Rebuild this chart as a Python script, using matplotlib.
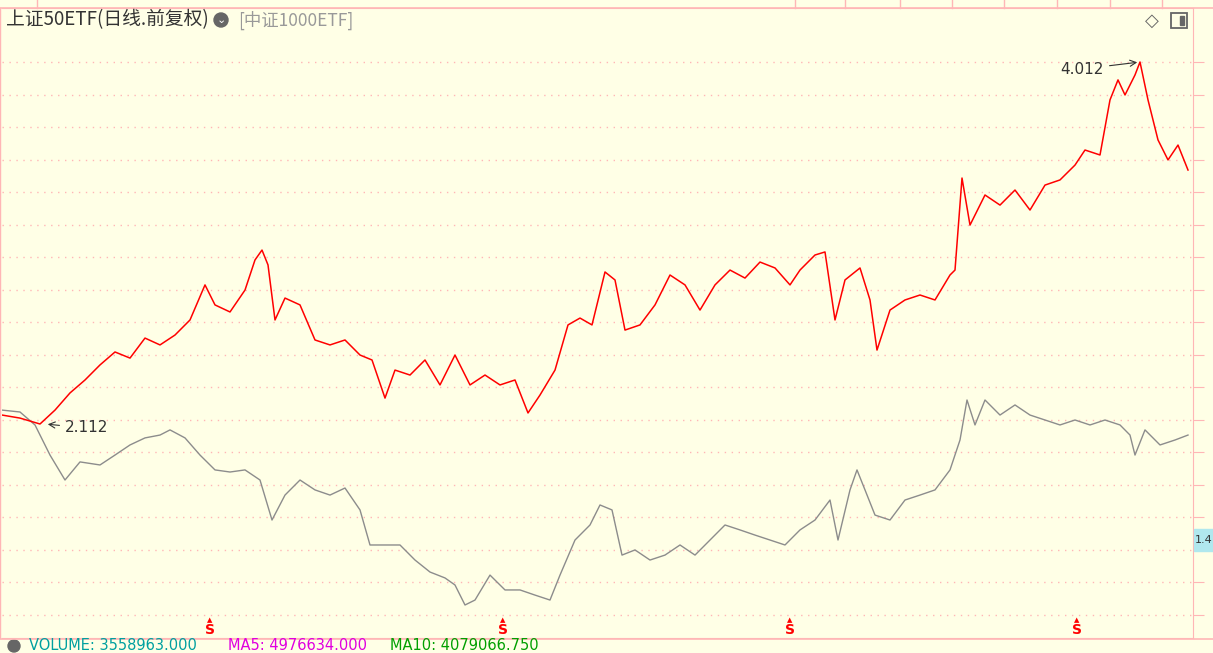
import matplotlib
matplotlib.use("Agg")
import matplotlib.pyplot as plt
from matplotlib.patches import Rectangle, Circle

plt.rcParams['font.family'] = ['Noto Sans CJK SC', 'DejaVu Sans']

# day index (trading-day position) and values, 上证50ETF (red) and 中证1000ETF overlay (gray)
red_day = [2,20,40,55,70,85,100,115,130,145,160,175,190,205,215,230,245,255,262,268,275,285,300,315,330,345,360,372,385,395,410,425,440,455,470,485,500,515,528,540,555,568,580,592,605,615,625,640,655,670,685,700,715,730,745,760,775,790,800,815,825,835,845,860,870,877,890,905,920,935,950,955,962,970,985,1000,1015,1030,1045,1060,1075,1085,1100,1110,1118,1125,1135,1140,1148,1158,1168,1178,1188]
red_px = [415,418,424,410,393,380,365,352,358,338,345,335,320,285,305,312,290,260,250,265,320,298,305,340,345,340,355,360,398,370,375,360,385,355,385,375,385,380,413,395,370,325,318,325,272,280,330,325,305,275,285,310,285,270,278,262,268,285,270,255,252,320,280,268,300,350,310,300,295,300,275,270,178,225,195,205,190,210,185,180,165,150,155,100,80,95,75,62,100,140,160,145,170]
gray_day = [2,20,35,50,65,80,100,115,130,145,160,170,185,200,215,230,245,260,272,285,300,315,330,345,360,370,385,400,415,430,445,455,465,475,490,505,520,535,550,560,575,590,600,612,622,635,650,665,680,695,710,725,740,755,770,785,800,815,830,838,850,857,865,875,890,905,920,935,950,960,967,975,985,1000,1015,1030,1045,1060,1075,1090,1105,1120,1130,1135,1145,1160,1175,1188]
gray_px = [410,412,425,455,480,462,465,455,445,438,435,430,438,455,470,472,470,480,520,495,480,490,495,488,510,545,545,545,560,572,578,585,605,600,575,590,590,595,600,575,540,525,505,510,555,550,560,555,545,555,540,525,530,535,540,545,530,520,500,540,490,470,490,515,520,500,495,490,470,440,400,425,400,415,405,415,420,425,420,425,420,425,435,455,430,445,440,435]

def to_val(p):
    return 4.012 - (p - 62) * (1.9 / 362)

red = [round(to_val(p), 3) for p in red_px]
gray = [round(to_val(p), 3) for p in gray_px]

W, H = 1213, 653
fig = plt.figure(figsize=(W/100, H/100), dpi=100)
fig.patch.set_facecolor('#FFFFE6')
pink = '#FFB6B6'

ax = fig.add_axes([2/W, 1-638/H, (1193-2)/W, (638-8)/H])
ax.set_facecolor('#FFFFE6')
ax.plot(gray_day, gray, color='#8C8C8C', lw=1)
ax.plot(red_day, red, color='#FF0000', lw=1.1)
ax.set_xlim(2, 1193)
ax.set_ylim(to_val(638), to_val(8))
ticks = [to_val(62 + k*32.5) for k in range(18)]
ax.set_yticks(ticks)
ax.yaxis.tick_right()
ax.tick_params(axis='y', length=8, color=pink, labelright=False)
ax.set_xticks([])
ax.grid(axis='y', color=pink, ls=(0, (1, 4)), lw=1)
for s in ax.spines.values():
    s.set_color(pink)
ax.spines['left'].set_visible(False)

ax.annotate('4.012', xy=(1140, 4.012), xytext=(1104, to_val(69)), ha='right', va='center',
            fontsize=11, color='#333333', family='DejaVu Sans',
            arrowprops=dict(arrowstyle='->', color='#333333', lw=0.8))
ax.annotate('2.112', xy=(45, 2.112), xytext=(65, to_val(428)), ha='left', va='center',
            fontsize=11, color='#333333', family='DejaVu Sans',
            arrowprops=dict(arrowstyle='->', color='#333333', lw=0.8))

# overlay decorations in pixel coordinates
ov = fig.add_axes([0, 0, 1, 1])
ov.set_xlim(0, W); ov.set_ylim(H, 0); ov.axis('off')
ov.plot([0, W], [8, 8], color=pink, lw=1.2)
for xv in [37, 795, 845, 900, 952, 1004, 1057, 1110, 1162]:
    ov.plot([xv, xv], [0, 8], color=pink, lw=1)
ov.plot([0, W], [639, 639], color=pink, lw=1.2)
ov.plot([0, 0], [8, 638], color=pink, lw=1)
ov.text(6, 20, '上证50ETF(日线.前复权)', fontsize=13.5, color='#333333', va='center')
ov.add_patch(Circle((221, 20), 7, color='#666666'))
ov.text(221, 20, '⌄', fontsize=8, color='white', ha='center', va='center', family='DejaVu Sans')
ov.text(238, 20, '[中证1000ETF]', fontsize=12.5, color='#999999', va='center')
ov.text(1152, 21, '◇', fontsize=13, color='#666666', ha='center', va='center', family='DejaVu Sans')
ov.add_patch(Rectangle((1171, 13), 16, 15, fill=False, ec='#666666', lw=1.3))
ov.add_patch(Rectangle((1180, 16), 4, 9, color='#666666'))
ov.add_patch(Rectangle((1194, 529), 19, 22, color='#B0E8EE'))
ov.text(1203.5, 540, '1.4', fontsize=8, color='#333333', va='center', ha='center', family='DejaVu Sans')
for xv in [210, 503, 790, 1077]:
    ov.text(xv, 620, '▲', fontsize=5, color='red', ha='center', va='center', family='DejaVu Sans')
    ov.text(xv, 630, 'S', fontsize=10, color='red', ha='center', va='center', fontweight='bold', family='DejaVu Sans')
ov.add_patch(Circle((14, 646), 6, color='#666666'))
ov.text(29, 646, 'VOLUME: 3558963.000', fontsize=10.5, color='#00A0A0', va='center', family='DejaVu Sans')
ov.text(228, 646, 'MA5: 4976634.000', fontsize=10.5, color='#E000E0', va='center', family='DejaVu Sans')
ov.text(390, 646, 'MA10: 4079066.750', fontsize=10.5, color='#00A000', va='center', family='DejaVu Sans')

fig.savefig('out.png', dpi=100, facecolor=fig.get_facecolor())
